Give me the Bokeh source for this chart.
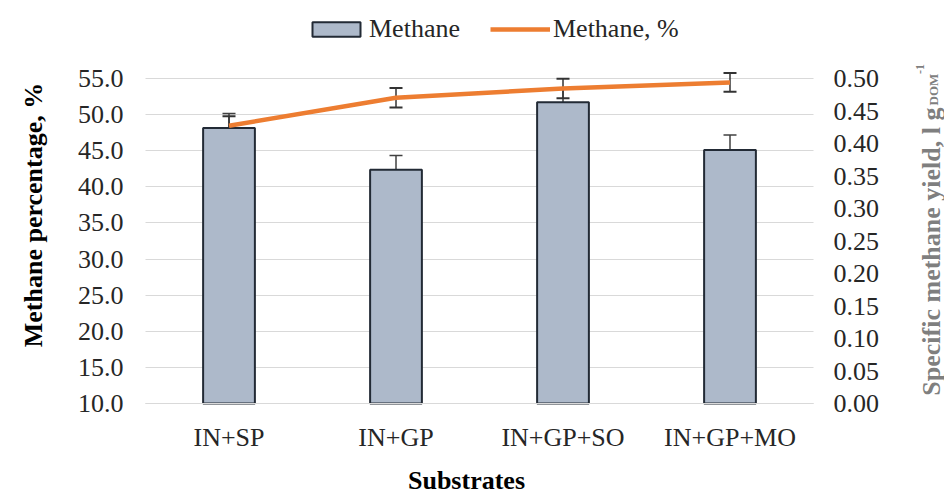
import math
from bokeh.plotting import figure
from bokeh.models import (Range1d, LinearAxis, FixedTicker, NumeralTickFormatter,
                          ColumnDataSource, Whisker, TeeHead, Legend, LegendItem,
                          Label, Grid)
from bokeh.embed import file_html
from bokeh.resources import INLINE

# ---- data ----
categories = ["IN+SP", "IN+GP", "IN+GP+SO", "IN+GP+MO"]
# specific methane yield (bars, right axis)
yield_vals = [0.424, 0.3595, 0.4635, 0.390]
yield_err = [0.022, 0.022, 0.022, 0.023]
# methane percentage (line, left axis)
methane_pct = [48.46, 52.33, 53.62, 54.45]
methane_err = [1.3, 1.35, 1.35, 1.3]
left_ticks = [10, 15, 20, 25, 30, 35, 40, 45, 50, 55]
right_ticks = [0.0, 0.05, 0.10, 0.15, 0.20, 0.25, 0.30, 0.35, 0.40, 0.45, 0.50]

ncat = len(categories)
xpos = [i + 0.5 for i in range(ncat)]

FONT = "Liberation Serif"
GRID = "#d9d9d9"
TXT = "#262626"
RGREY = "#7f7f7f"

# ---- layout (pixels) ----
W, H = 944, 490
FL, FR, FT, FB = 145, 813, 78, 403        # plot-area box of the chart
px_per_x = (FR - FL) / ncat
px_per_l = (FB - FT) / (55 - 10)
px_per_r = (FB - FT) / 0.5
# the frame covers the whole canvas; axes are pinned to the plot-area edges
x_start = -FL / px_per_x
x_end = (W - FL) / px_per_x
l_bot = 10 - (H - FB) / px_per_l
l_top = 10 + FB / px_per_l
r_bot = -(H - FB) / px_per_r
r_top = FB / px_per_r

def xd(px):
    return (px - FL) / px_per_x

def yd(py):
    return 55 - (py - FT) / px_per_l

p = figure(width=W, height=H, x_range=Range1d(x_start, x_end),
           y_range=Range1d(l_bot, l_top), output_backend="svg",
           toolbar_location=None, title=None, min_border=0)
p.outline_line_color = None
p.xgrid.grid_line_color = None
p.ygrid.grid_line_color = None
p.extra_y_ranges = {"right": Range1d(r_bot, r_top)}

def plain(ax):
    ax.axis_line_color = None
    ax.major_tick_line_color = None
    ax.minor_tick_line_color = None
    ax.major_tick_out = 0
    ax.major_tick_in = 0

# left axis
ya = p.yaxis[0]
ya.fixed_location = 0
ya.ticker = FixedTicker(ticks=left_ticks)
ya.formatter = NumeralTickFormatter(format="0.0")
plain(ya)
ya.major_label_text_font = FONT
ya.major_label_text_font_size = "26px"
ya.major_label_text_color = TXT
ya.major_label_standoff = 22

# horizontal grid lines, only across the plot area
if "cross_bounds" in Grid.properties():
    g = Grid(dimension=1, ticker=FixedTicker(ticks=left_ticks), cross_bounds=(0, ncat),
             grid_line_color=GRID, grid_line_width=1)
    p.add_layout(g)
else:
    p.segment(x0=[0] * len(left_ticks), x1=[ncat] * len(left_ticks), y0=left_ticks,
              y1=left_ticks, line_color=GRID, line_width=1)

# right axis, pinned to the right edge of the plot area
ra = LinearAxis(y_range_name="right", ticker=FixedTicker(ticks=right_ticks),
                formatter=NumeralTickFormatter(format="0.00"), fixed_location=ncat)
plain(ra)
ra.major_label_text_font = FONT
ra.major_label_text_font_size = "26px"
ra.major_label_text_color = TXT
ra.major_label_standoff = 20
p.add_layout(ra, "right")

# x axis, pinned to the bottom of the plot area
xa = p.xaxis[0]
xa.fixed_location = 10
xa.ticker = FixedTicker(ticks=xpos)
xa.major_label_overrides = {x: c for x, c in zip(xpos, categories)}
xa.bounds = (0, ncat)
xa.axis_line_color = GRID
xa.axis_line_width = 1
xa.major_tick_line_color = None
xa.minor_tick_line_color = None
xa.major_tick_out = 0
xa.major_label_text_font = FONT
xa.major_label_text_font_size = "26px"
xa.major_label_text_color = TXT
xa.major_label_standoff = 19

# bars
bar_src = ColumnDataSource(dict(x=xpos, top=yield_vals,
                                upper=[v + e for v, e in zip(yield_vals, yield_err)],
                                lower=[v - e for v, e in zip(yield_vals, yield_err)]))
bars = p.vbar(x="x", top="top", bottom=0, width=0.31, source=bar_src,
              y_range_name="right", fill_color="#adb9ca", line_color="#222a35",
              line_width=2)

# line
line_src = ColumnDataSource(dict(x=xpos, y=methane_pct,
                                 upper=[v + e for v, e in zip(methane_pct, methane_err)],
                                 lower=[v - e for v, e in zip(methane_pct, methane_err)]))
ln = p.line(x="x", y="y", source=line_src, line_color="#ed7d31", line_width=4.5)

# error bars
wb = Whisker(base="x", upper="upper", lower="lower", source=bar_src, y_range_name="right",
             line_color="#404040", line_width=1.5,
             upper_head=TeeHead(size=13, line_color="#404040", line_width=1.5),
             lower_head=TeeHead(size=13, line_color="#404040", line_width=1.5))
wl = Whisker(base="x", upper="upper", lower="lower", source=line_src,
             line_color="#333333", line_width=1.5,
             upper_head=TeeHead(size=13, line_color="#333333", line_width=2),
             lower_head=TeeHead(size=13, line_color="#333333", line_width=2))
p.add_layout(wb)
p.add_layout(wl)

# legend (top)
leg = Legend(items=[LegendItem(label="Methane", renderers=[bars]),
                    LegendItem(label="Methane, %", renderers=[ln])],
             location=(306, H - 44), orientation="horizontal", glyph_width=60,
             glyph_height=18, label_standoff=3, padding=0, margin=0, spacing=30,
             border_line_color=None, background_fill_alpha=0,
             label_text_font=FONT, label_text_font_size="26px", label_text_color=TXT)
p.add_layout(leg, "center")

# axis titles
p.add_layout(Label(x=xd(33), y=yd(214.5), text="Methane percentage, %",
                   angle=math.pi / 2, text_align="center", text_baseline="alphabetic",
                   text_font=FONT, text_font_size="26px", text_font_style="bold",
                   text_color="black"))
p.add_layout(Label(x=xd(466), y=yd(480), text="Substrates", text_align="center",
                   text_baseline="alphabetic", text_font=FONT, text_font_size="26px",
                   text_font_style="bold", text_color="black"))
# right axis title (with sub- and superscript), reading upwards
p.add_layout(Label(x=xd(931), y=yd(107), text="Specific methane yield, l g",
                   angle=math.pi / 2, text_align="right", text_baseline="alphabetic",
                   text_font=FONT, text_font_size="26px", text_font_style="bold",
                   text_color=RGREY))
p.add_layout(Label(x=xd(933), y=yd(105), text="DOM", angle=math.pi / 2,
                   text_align="left", text_baseline="alphabetic", text_font=FONT,
                   text_font_size="13px", text_font_style="bold", text_color=RGREY))
p.add_layout(Label(x=xd(919), y=yd(73.5), text="-1", angle=math.pi / 2,
                   text_align="left", text_baseline="alphabetic", text_font=FONT,
                   text_font_size="12px", text_font_style="bold", text_color=RGREY))

open("out.html", "w").write(file_html(p, INLINE))
